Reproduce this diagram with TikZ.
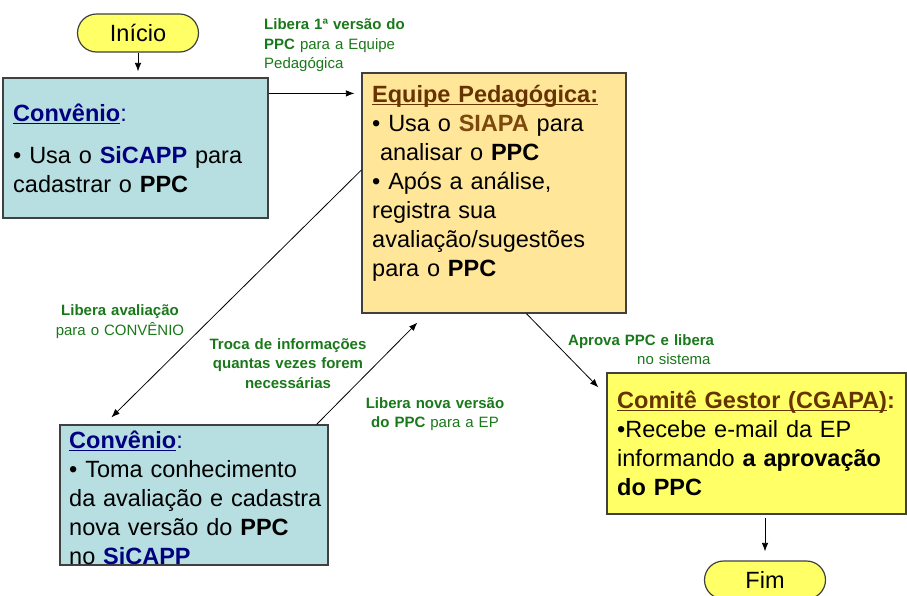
\documentclass[tikz,border=0pt]{standalone}
\usepackage{fontspec}
\setmainfont{Liberation Sans}
\usepackage{xcolor}
\usetikzlibrary{arrows.meta}
\definecolor{verde}{RGB}{25,120,25}
\definecolor{azul}{RGB}{0,0,128}
\definecolor{marrom}{RGB}{102,51,0}
\definecolor{siapa}{RGB}{125,72,12}
\definecolor{caixaazul}{RGB}{183,222,224}
\definecolor{caixabege}{RGB}{255,230,153}
\definecolor{amarelo}{RGB}{255,255,102}
\newcommand\sublinha[1]{\setbox0\hbox{#1}\rlap{\rule[-3.2pt]{\wd0}{1.6pt}}\box0}

\begin{document}
\begin{tikzpicture}[x=1pt,y=-1pt,
	caixa/.style={draw=black!75,line width=1.2pt,inner sep=0pt},
	terminal/.style={caixa,fill=amarelo,rounded corners=19pt,
		minimum width=121pt,minimum height=38pt,font=\fontsize{23.5}{29}\selectfont},
	texto/.style={anchor=base west,inner sep=0pt,text width=292pt,align=left,
		font=\fontsize{23.5}{29}\selectfont},
	rotulo/.style={inner sep=0pt,text width=220pt,align=center,anchor=base,
		text=verde,font=\fontsize{15}{19.5}\selectfont},
	seta/.style={-{Latex[length=8.5pt,width=6.5pt]},line width=0.8pt}]
	\useasboundingbox (0,0) rectangle (907,595);
	\node[terminal] (ini) at(138,33){Início};
	\node[caixa,fill=caixaazul,minimum width=265pt,minimum height=140pt] (conv1) at(135.5,148){};
	\node[caixa,fill=caixabege,minimum width=264pt,minimum height=240pt] (ep) at(494,193){};
	\node[caixa,fill=caixaazul,minimum width=268pt,minimum height=140pt] (conv2) at(194,495){};
	\node[caixa,fill=amarelo,minimum width=299pt,minimum height=141pt] (cg) at(756.5,443.5){};
	\node[terminal] (fim) at(765,580){Fim};
	\node[texto] (txtconv1) at(13,121){{\color{azul}\textbf{\sublinha{Convênio}}:}\\[13pt]
		• Usa o \textbf{\color{azul}SiCAPP} para\\
		cadastrar o \textbf{PPC}};
	\node[texto] (txtep) at(372,102){\textcolor{marrom}{\textbf{\sublinha{Equipe Pedagógica:}}}\\
		• Usa o \textbf{\color{siapa}SIAPA} para\\
		\ analisar o \textbf{PPC}\\
		• Após a análise,\\
		registra sua\\
		avaliação/sugestões\\
		para o \textbf{PPC}};
	\node[texto] (txtconv2) at(69,448){{\color{azul}\textbf{\sublinha{Convênio}}:}\\
		• Toma conhecimento\\
		da avaliação e cadastra\\
		nova versão do \textbf{PPC}\\
		no \textbf{\color{azul}SiCAPP}};
	\node[texto] (txtcg) at(617,408){\textcolor{marrom}{\textbf{\sublinha{Comitê Gestor (CGAPA)}:}}\\
		•Recebe e-mail da EP\\
		informando \textbf{a aprovação}\\
		\textbf{do PPC}};
	\node[rotulo,anchor=base west,align=left] (lib1) at(264,29.5){\textbf{Libera 1ª versão do}\\
		\textbf{PPC} para a Equipe\\
		Pedagógica};
	\node[rotulo] (libav) at(120,315.5){\textbf{Libera avaliação}\\para o CONVÊNIO};
	\node[rotulo] (troca) at(288,349){\textbf{Troca de informações}\\
		\textbf{quantas vezes forem}\\
		\textbf{necessárias}};
	\node[rotulo] (libnova) at(435,408){\textbf{Libera nova versão}\\\textbf{do PPC} para a EP};
	\node[rotulo,anchor=base west,align=left] (aprova) at(568,345){\textbf{Aprova PPC e libera}\\
		\hspace*{69pt}no sistema};
	\draw[seta,shorten >=6pt] (ini.south) -- (ini.south |- conv1.north);
	\draw[seta,shorten >=7pt] ([yshift=-16pt]conv1.north east) -- ([yshift=-16pt]conv1.north east -| ep.west);
	\draw[seta] ([yshift=23pt]ep.west) -- ([xshift=52pt,yshift=7pt]conv2.north west);
	\draw[seta] ([xshift=-12pt]conv2.north east) -- ([xshift=56pt,yshift=-9pt]ep.south west);
	\draw[seta] ([xshift=165pt]ep.south west) -- ([xshift=-8pt,yshift=-15pt]cg.north west);
	\draw[seta,shorten <=3pt,shorten >=9pt] (cg.south -| fim.north) -- (fim.north);
\end{tikzpicture}
\end{document}
